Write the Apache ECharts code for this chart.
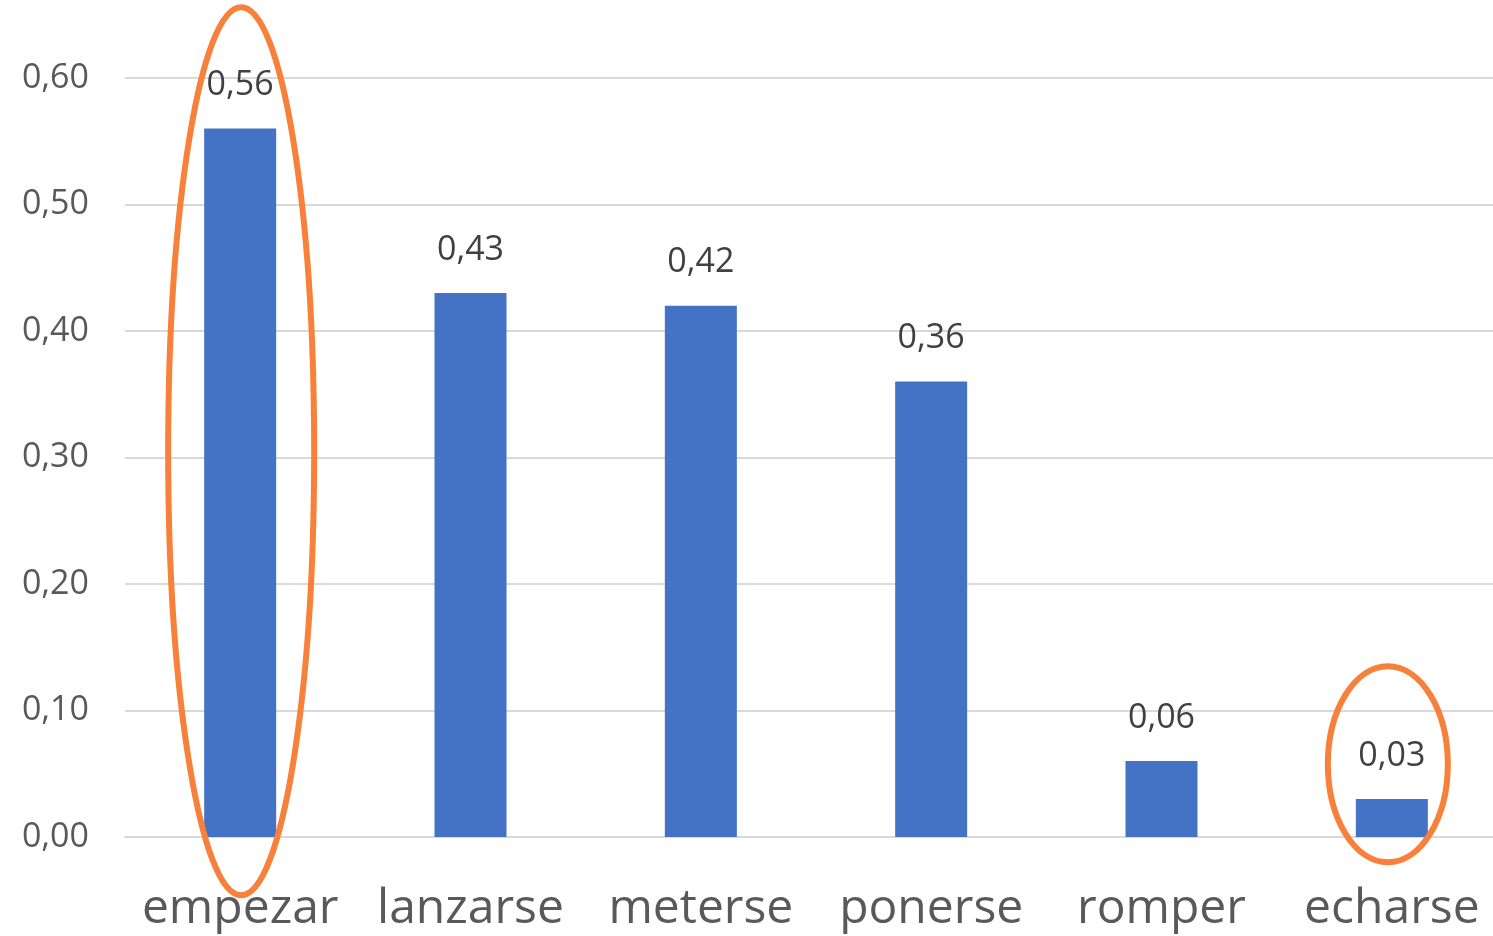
<!DOCTYPE html>
<html>
<head>
<meta charset="utf-8">
<script src="https://cdn.jsdelivr.net/npm/echarts@6/dist/echarts.min.js"></script>
<style>
  html, body { margin: 0; padding: 0; background: #ffffff; overflow: hidden; }
  #chart { width: 1507px; height: 936px; }
</style>
</head>
<body>
<div id="chart"></div>
<script>
// Verbs and their values
const categories = ['empezar', 'lanzarse', 'meterse', 'ponerse', 'romper', 'echarse'];
const values = [0.56, 0.43, 0.42, 0.36, 0.06, 0.03];
const yTicks = [0, 0.1, 0.2, 0.3, 0.4, 0.5, 0.6];

// Highlight ellipses: category index, value span, half width (px), x offset (px)
const highlightCats = [0, 5];
const highlightLow = [-0.046, -0.020];
const highlightHigh = [0.656, 0.135];
const highlightHalfWidth = [73, 60];
const highlightShift = [1, -4];

const fmt = v => v.toFixed(2).replace('.', ',');
const FONT = '"Open Sans", "Noto Sans", sans-serif';

const chart = echarts.init(document.getElementById('chart'), null, { renderer: 'canvas' });

chart.setOption({
  backgroundColor: '#ffffff',
  animation: false,
  grid: { left: 125, right: 0, top: 78, bottom: 99, containLabel: false },
  xAxis: {
    type: 'category',
    data: categories,
    axisLine: { show: true, lineStyle: { color: '#d9d9d9', width: 2 } },
    axisTick: { show: false },
    axisLabel: { interval: 0, color: '#595959', fontSize: 48, fontFamily: FONT, margin: 48 }
  },
  yAxis: {
    type: 'value',
    min: yTicks[0],
    max: yTicks[yTicks.length - 1],
    interval: 0.1,
    axisLine: { show: false },
    axisTick: { show: false },
    splitLine: { lineStyle: { color: '#d9d9d9', width: 2 } },
    axisLabel: { color: '#595959', fontSize: 34, fontFamily: FONT, margin: 36, formatter: fmt }
  },
  series: [{
    type: 'bar',
    data: values,
    barWidth: 72,
    itemStyle: { color: '#4472C4' },
    label: {
      show: true,
      position: 'top',
      distance: 26,
      color: '#404040',
      fontSize: 34,
      fontFamily: FONT,
      formatter: p => fmt(p.value)
    }
  }]
});

// Orange ellipses drawn around the highlighted bars, placed via the axes
const ellipses = highlightCats.map((ci, i) => {
  const top = chart.convertToPixel({ gridIndex: 0 }, [ci, highlightHigh[i]]);
  const bot = chart.convertToPixel({ gridIndex: 0 }, [ci, highlightLow[i]]);
  return {
    type: 'ellipse',
    shape: {
      cx: top[0] + highlightShift[i],
      cy: (top[1] + bot[1]) / 2,
      rx: highlightHalfWidth[i],
      ry: (bot[1] - top[1]) / 2
    },
    style: { fill: null, stroke: '#F7803A', lineWidth: 6 },
    z: 100
  };
});
chart.setOption({ graphic: ellipses });
</script>
</body>
</html>
